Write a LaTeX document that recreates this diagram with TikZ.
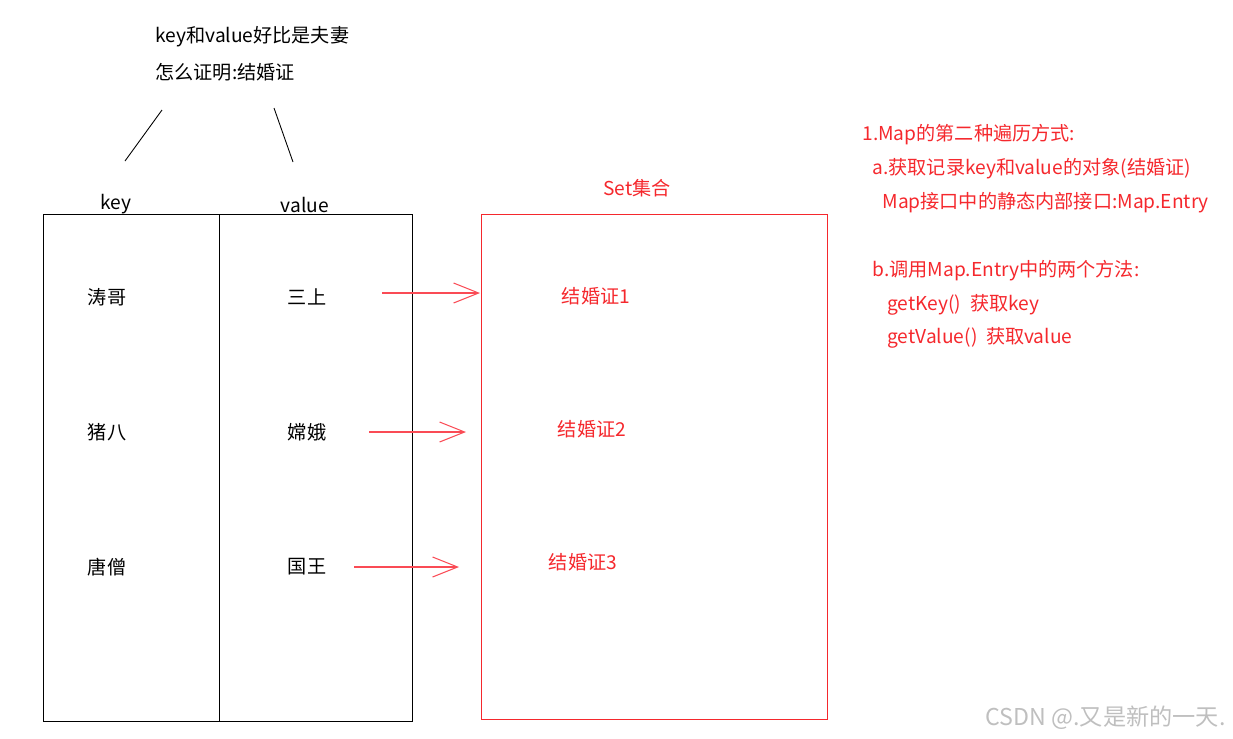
\documentclass[tikz,border=0pt]{standalone}
\usepackage{fontspec}
\setmainfont{Noto Sans CJK SC}
\usetikzlibrary{arrows.meta}
\definecolor{setred}{RGB}{245,40,45}
\definecolor{arrred}{RGB}{250,75,85}
\tikzset{
  txt/.style={font=\fontsize{10.9pt}{12pt}\selectfont,inner sep=0pt},
  redtxt/.style={txt,text=setred},
  maparrow/.style={arrred,line width=0.6pt,-{Straight Barb[length=5mm,width=4mm]}},
}

\begin{document}
\begin{tikzpicture}[x=0.02cm,y=-0.02cm,line width=0.5pt]
\useasboundingbox (0,0) rectangle (1233,738);
% 说明
\node[txt,anchor=west] (t1) at (155,37) {key和value好比是夫妻};
\node[txt,anchor=west] (t2) at (155,72) {怎么证明:结婚证};
\coordinate (l1) at (162,110); \coordinate (l2) at (125,161);
\coordinate (r1) at (274,108); \coordinate (r2) at (293,162);
\draw (l1)--(l2);
\draw (r1)--(r2);
% Map
\draw (43,214) rectangle (412,721);
\draw (219,214)--(219,721);
\node[txt] (k) at (116,204) {key};
\node[txt] (v) at (305,205) {value};
\foreach \y/\ky/\vl [count=\i] in {297/涛哥/三上,432/猪八/嫦娥,567/唐僧/国王}{
  \node[txt] (k\i) at (107,\y) {\ky};
  \node[txt] (v\i) at (307,\y) {\vl};
}
% Set集合
\draw[setred] (481,214) rectangle (827,719);
\node[redtxt] (set) at (637,188) {Set集合};
\node[redtxt] (e1) at (596,296) {结婚证1};
\node[redtxt] (e2) at (592,429) {结婚证2};
\node[redtxt] (e3) at (583,562) {结婚证3};
\foreach \i/\y/\a/\b in {1/293/382/480,2/432/369/466,3/567/354/459}{
  \coordinate (a\i) at (\a,\y);
  \coordinate (b\i) at (\b,\y);
  \draw[maparrow] (a\i)--(b\i);
}
% 遍历方式
\node[redtxt,anchor=west] (n1) at (862,135) {1.Map的第二种遍历方式:};
\node[redtxt,anchor=west] (n2) at (872,169) {a.获取记录key和value的对象(结婚证)};
\node[redtxt,anchor=west] (n3) at (882,203) {Map接口中的静态内部接口:Map.Entry};
\node[redtxt,anchor=west] (n4) at (872,271) {b.调用Map.Entry中的两个方法:};
\node[redtxt,anchor=west] (n5) at (887,305) {getKey()\ \ 获取key};
\node[redtxt,anchor=west] (n6) at (887,338) {getValue()\ \ 获取value};
% 水印
\node[txt,font=\fontsize{13.2pt}{14pt}\selectfont,text=black!25,anchor=east] (wm) at (1226,718) {CSDN @.又是新的一天.};
\end{tikzpicture}
\end{document}
